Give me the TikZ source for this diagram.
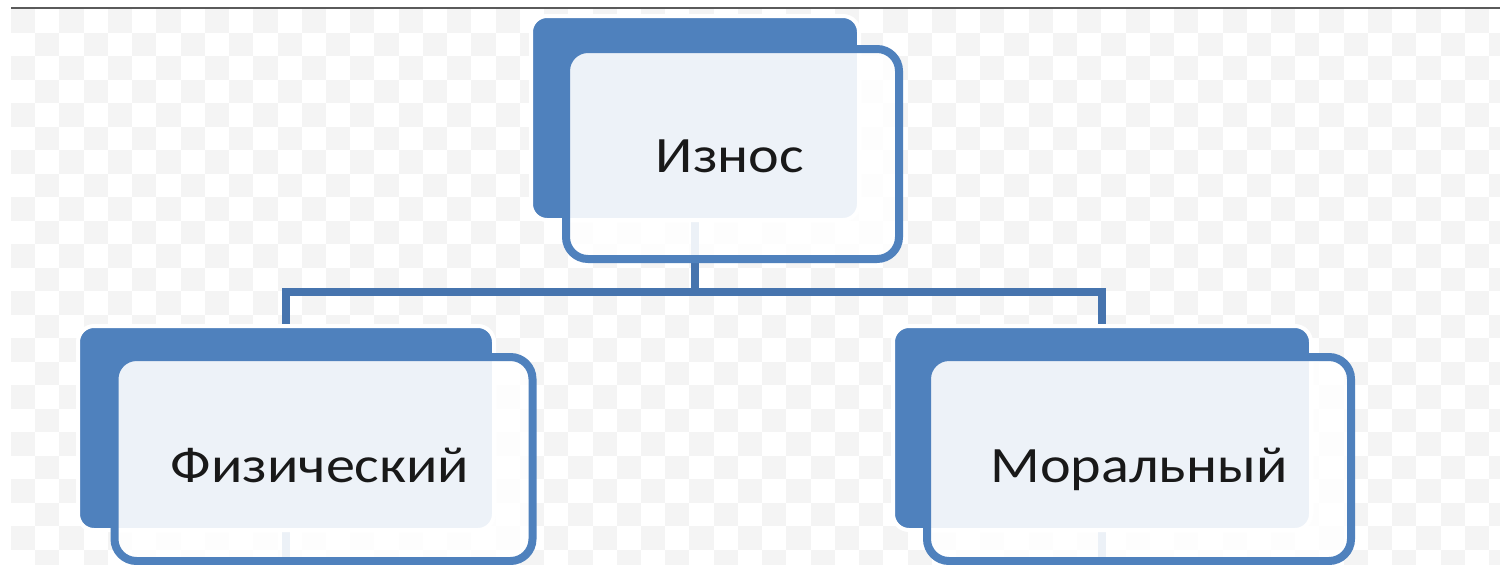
\documentclass[tikz,border=0pt]{standalone}
\usepackage{fontspec}
\setmainfont{Carlito}
\newfontfamily\lblfont[FakeStretch=1.14]{Carlito}
\definecolor{accent}{HTML}{4F81BD}
\definecolor{connc}{HTML}{4674AE}
\definecolor{checker}{HTML}{F4F4F4}
\definecolor{topline}{HTML}{5A5A5A}
\begin{document}
\begin{tikzpicture}[x=1pt,y=-1pt,
  backbox/.style={draw=white,line width=4pt,fill=accent,rounded corners=16pt,inner sep=0pt,outer sep=0pt},
  frontbox/.style={draw=accent,line width=8pt,fill=white,fill opacity=0.9,rounded corners=22pt,inner sep=0pt,outer sep=0pt},
  lbl/.style={anchor=base,text=black!90,inner sep=0pt,font=\lblfont\fontsize{51}{60}\selectfont},
  connector/.style={draw=connc,line width=8pt},
  cell/.style={fill=checker}]
\useasboundingbox (0,0) rectangle (1500,565);
\clip (0,0) rectangle (1500,565);
\fill[white] (0,0) rectangle (1500,565);
% faint checker background
\foreach \i in {0,...,61}{%
  \foreach \j in {0,...,23}{%
    \pgfmathtruncatemacro\cpar{mod(\i+\j,2)}%
    \ifnum\cpar=0
      \path[cell] ({11+24.23*\i},{9+23.5*\j}) rectangle ++(24.23,23.5);
    \fi
  }}
% top rule
\coordinate (ruleL) at (11,8);
\coordinate (ruleR) at (1500,8);
\draw[topline,line width=2pt] (ruleL) -- (ruleR);
% back boxes (positions)
\coordinate (cTop) at (695,118);
\coordinate (cPhys) at (286,428);
\coordinate (cMoral) at (1102,428);
\coordinate (bus) at (695,292);
\coordinate (physEnd) at (286,600);
\coordinate (moralEnd) at (1102,600);
% connectors (behind boxes)
\draw[connector] (cTop) -- (bus);
\draw[connector] (bus) -| (cPhys);
\draw[connector] (bus) -| (cMoral);
\draw[connector] (cPhys) -- (physEnd);
\draw[connector] (cMoral) -- (moralEnd);
% back boxes
\node[backbox,minimum width=328pt,minimum height=204pt] (top) at (cTop) {};
\node[backbox,minimum width=416pt,minimum height=204pt] (phys) at (cPhys) {};
\node[backbox,minimum width=418pt,minimum height=204pt] (moral) at (cMoral) {};
% front boxes
\node[frontbox,minimum width=333pt,minimum height=210pt] (topF) at (732.5,154) {};
\node[frontbox,minimum width=418pt,minimum height=204pt] (physF) at (323.5,459) {};
\node[frontbox,minimum width=424pt,minimum height=204pt] (moralF) at (1139,459) {};
% labels
\node[lbl] (topL) at (730,172) {Износ};
\node[lbl] (physL) at (320,482) {Физический};
\node[lbl] (moralL) at (1139,482) {Моральный};
\end{tikzpicture}
\end{document}
